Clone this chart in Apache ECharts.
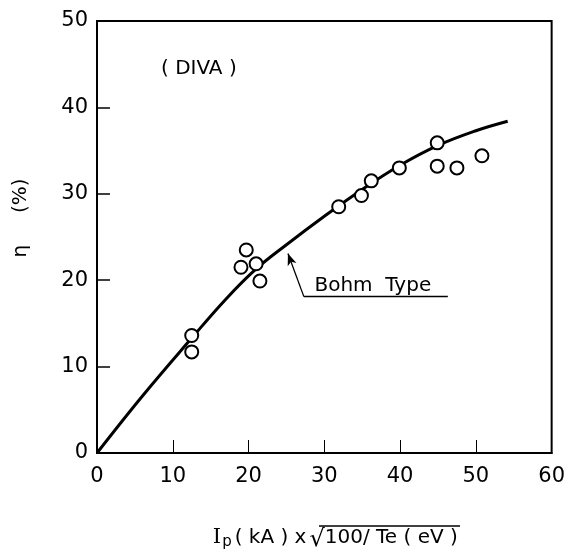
<!DOCTYPE html>
<html>
<head>
<meta charset="utf-8">
<script src="https://cdn.jsdelivr.net/npm/echarts@6/dist/echarts.min.js"></script>
<style>
  html, body { margin: 0; padding: 0; background: #fff; }
  #chart { width: 568px; height: 557px; }
</style>
</head>
<body>
<div id="chart"></div>
<script>
// measured points (x = Ip(kA)*sqrt(100/Te), y = eta %)
const pointsX = [12.5, 12.5, 19.0, 19.7, 21.0, 21.5, 31.9, 34.9, 36.2, 39.9, 44.9, 44.9, 47.5, 50.8]
const pointsY = [13.6, 11.7, 21.5, 23.5, 21.9, 19.9, 28.5, 29.8, 31.5, 33.0, 35.9, 33.2, 33.0, 34.4]

// Bohm type curve
const curveX = [0, 6, 12.5, 17, 21, 25, 30, 35, 40, 45, 50, 54.2]
const curveY = [0, 6.6, 13.3, 17.8, 21.3, 24.1, 27.4, 30.5, 33.3, 35.6, 37.3, 38.4]

const xTicks = [0, 10, 20, 30, 40, 50, 60]
const yTicks = [0, 10, 20, 30, 40, 50]

// annotation anchors in data units
const bohmText = 'Bohm  Type'
const bohmLineStart = [27.3, 18.1]
const bohmLineEnd = [46.3, 18.1]
const bohmArrowTip = [25.2, 23.1]

const font = 'DejaVu Sans'
const chart = echarts.init(document.getElementById('chart'))

chart.setOption({
  backgroundColor: '#fff',
  animation: false,
  title: {
    text: '( DIVA )',
    left: 156,
    top: 54,
    textStyle: { fontFamily: font, fontSize: 20, fontWeight: 'normal', color: '#000' },
  },
  grid: {
    left: 97,
    right: 14,
    top: 21,
    bottom: 95,
    show: true,
    borderColor: '#000',
    borderWidth: 2,
  },
  xAxis: {
    type: 'value',
    min: xTicks[0],
    max: xTicks[xTicks.length - 1],
    interval: 10,
    splitLine: { show: false },
    axisLine: { lineStyle: { color: '#000', width: 2 } },
    axisTick: { inside: true, length: 13, lineStyle: { color: '#000', width: 1 } },
    axisLabel: { color: '#000', fontFamily: font, fontSize: 21, margin: 13 },
    name: '{i|I}{sub|p}{n|( kA ) x}{sq|√}{n|100/ Te ( eV )}',
    nameLocation: 'middle',
    nameGap: 70,
    nameTextStyle: {
      color: '#000',
      padding: [0, 0, 0, 22],
      rich: {
        i: { fontFamily: 'DejaVu Serif', fontSize: 21, color: '#000' },
        sub: { fontFamily: font, fontSize: 15, color: '#000', padding: [10, 3, 0, 1] },
        n: { fontFamily: font, fontSize: 20, color: '#000' },
        sq: { fontFamily: font, fontSize: 24, color: '#000', padding: [5, 0, 0, 3] },
      },
    },
  },
  yAxis: {
    type: 'value',
    min: yTicks[0],
    max: yTicks[yTicks.length - 1],
    interval: 10,
    splitLine: { show: false },
    axisLine: { lineStyle: { color: '#000', width: 2 } },
    axisTick: { inside: true, length: 13, lineStyle: { color: '#000', width: 1.5 } },
    axisLabel: { color: '#000', fontFamily: font, fontSize: 21, margin: 9 },
  },
  graphic: [
    {
      type: 'text',
      x: 21,
      y: 218,
      rotation: Math.PI / 2,
      style: {
        text: 'η     (%)',
        fontFamily: font,
        fontSize: 20,
        fill: '#000',
        align: 'center',
        verticalAlign: 'middle',
      },
    },
    {
      type: 'line',
      shape: { x1: 319, y1: 526, x2: 460, y2: 526 },
      style: { stroke: '#000', lineWidth: 1.5 },
    },
  ],
  series: [
    {
      name: 'Bohm Type',
      type: 'line',
      smooth: 0.4,
      showSymbol: false,
      data: curveX.map((x, i) => [x, curveY[i]]),
      lineStyle: { color: '#000', width: 3 },
      z: 2,
    },
    {
      name: 'DIVA',
      type: 'scatter',
      symbol: 'circle',
      symbolSize: 13,
      data: pointsX.map((x, i) => [x, pointsY[i]]),
      itemStyle: { color: '#fff', borderColor: '#000', borderWidth: 2, opacity: 1 },
      z: 3,
      markLine: {
        silent: true,
        animation: false,
        lineStyle: { color: '#000', type: 'solid', width: 1.3 },
        data: [
          [
            { coord: bohmLineStart, symbol: 'none' },
            { coord: bohmLineEnd, symbol: 'none' },
          ],
          [
            { coord: bohmLineStart, symbol: 'none' },
            { coord: bohmArrowTip, symbol: 'arrow', symbolSize: [7, 12] },
          ],
        ],
        label: { show: false },
      },
      markPoint: {
        silent: true,
        symbol: 'rect',
        symbolSize: 1,
        itemStyle: { color: 'transparent' },
        data: [
          {
            coord: [(bohmLineStart[0] + bohmLineEnd[0]) / 2 - 0.4, bohmLineStart[1]],
            label: {
              show: true,
              formatter: bohmText,
              position: 'top',
              distance: 0,
              color: '#000',
              fontFamily: font,
              fontSize: 20,
            },
          },
        ],
      },
    },
  ],
})
</script>
</body>
</html>
